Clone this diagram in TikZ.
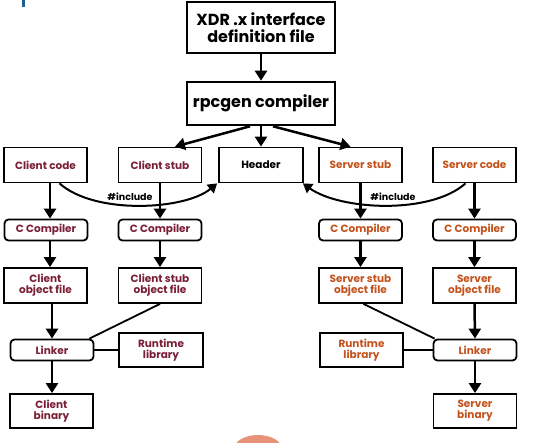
\documentclass[tikz,border=0pt]{standalone}
\usepackage{fontspec}
\setmainfont{Poppins}
\usetikzlibrary{arrows.meta}
\definecolor{cli}{HTML}{7A1F35}
\definecolor{srv}{HTML}{C4521C}
\definecolor{slideblue}{HTML}{1F5F8F}
\definecolor{blob}{HTML}{E8927A}
\begin{document}
\begin{tikzpicture}[x=1pt,y=-1pt,
  bigbox/.style={draw,line width=2.6pt,minimum width=148pt,align=center,inner sep=0pt,
    font=\fontsize{16}{17}\selectfont\bfseries},
  box/.style={draw,line width=1.8pt,minimum width=83pt,minimum height=35pt,align=center,inner sep=0pt,
    font=\fontsize{10.5}{11}\selectfont\bfseries},
  rbox/.style={box,rounded corners=4pt,minimum height=21pt},
  cl/.style={text=cli},
  sv/.style={text=srv},
  arr/.style={line width=2.5pt,-{Triangle[length=10pt,width=12pt]}},
  ln/.style={line width=1.8pt},
  carr/.style={line width=2pt,-{Triangle[length=9pt,width=11pt]}},
  lbl/.style={font=\fontsize{9.5}{10}\selectfont\bfseries,inner sep=0pt}]
\useasboundingbox (0,0) rectangle (533,442);
\fill[white] (0,0) rectangle (533,442);
% slide remnants
\fill[slideblue] (22,0) rectangle (24.5,7);
\begin{scope}
\clip (0,0) rectangle (533,442);
\fill[blob] (258,449) ellipse [x radius=24pt, y radius=14pt];
\end{scope}
% top
\node[bigbox,minimum height=51pt] (xdr) at (261,27.5) {XDR .x interface\\definition file};
\node[bigbox,minimum height=43pt] (rpc) at (261,103.5) {rpcgen compiler};
% row 2
\node[box,cl] (ccode) at (45.5,165) {Client code};
\node[box,cl] (cstub) at (160,165) {Client stub};
\node[box,minimum width=84pt] (hdr) at (261,165) {Header};
\node[box,sv] (sstub) at (360.5,165) {Server stub};
\node[box,sv] (scode) at (474.5,165) {Server code};
% compilers
\node[rbox,cl] (cc1) at (46,230) {C Compiler};
\node[rbox,cl] (cc2) at (160,230) {C Compiler};
\node[rbox,sv] (cc3) at (360.5,230) {C Compiler};
\node[rbox,sv] (cc4) at (474.5,230) {C Compiler};
% object files
\node[box,cl] (obj1) at (45.5,285.5) {Client\\object file};
\node[box,cl] (obj2) at (160,285.5) {Client stub\\object file};
\node[box,sv] (obj3) at (360.5,285.5) {Server stub\\object file};
\node[box,sv] (obj4) at (474.5,285.5) {Server\\object file};
% linkers
\node[rbox,cl] (lk1) at (52,350) {Linker};
\node[box,cl,minimum width=84pt,minimum height=34pt] (rt1) at (161,350) {Runtime\\library};
\node[box,sv,minimum height=34pt] (rt2) at (361.5,350) {Runtime\\library};
\node[rbox,sv] (lk2) at (475,350) {Linker};
% binaries
\node[box,cl,minimum height=34pt] (bin1) at (51.5,411) {Client\\binary};
\node[box,sv,minimum height=34pt] (bin2) at (475,411) {Server\\binary};
% arrows top
\draw[arr] (xdr.south) -- (rpc.north);
\draw[arr] (rpc.south) -- (hdr.north);
\draw[arr] ([xshift=-11pt]rpc.south) -- ([xshift=15pt]cstub.north);
\draw[arr] ([xshift=12pt]rpc.south) -- ([xshift=-10pt]sstub.north);
% client column
\draw[arr] ([xshift=4.5pt]ccode.south) -- ([xshift=4pt]cc1.north);
\draw[arr] ([xshift=4pt]cc1.south) -- ([xshift=4.5pt]obj1.north);
\draw[arr] ([xshift=6.5pt]obj1.south) -- (lk1.north);
\draw[arr] (lk1.south) -- ([xshift=0.5pt]bin1.south |- bin1.north);
\draw[arr] (cstub.south) -- (cc2.north);
\draw[arr] (cc2.south) -- (obj2.north);
\draw[ln] (obj2.south) -- ([xshift=-5pt]lk1.north east);
\draw[ln] (rt1.west) -- (lk1.east);
% server column
\draw[arr] (sstub.south) -- (cc3.north);
\draw[arr] (cc3.south) -- (obj3.north);
\draw[arr] (scode.south) -- (cc4.north);
\draw[arr] (cc4.south) -- (obj4.north);
\draw[arr] (obj4.south) -- (lk2.north);
\draw[arr] (lk2.south) -- (bin2.north);
\draw[ln] ([xshift=3pt]obj3.south) -- ([xshift=2pt]lk2.north west);
\draw[ln] (rt2.east) -- (lk2.west);
% include curves
\coordinate (cs) at ([xshift=14pt]ccode.south);
\coordinate (ce) at ([xshift=-1pt]hdr.south west);
\draw[carr] (cs) .. controls (95,215) and (185,210) .. (ce);
\coordinate (ss) at ([xshift=-9pt]scode.south);
\coordinate (se) at ([xshift=-1pt]hdr.south east);
\draw[carr] (ss) .. controls (430,215) and (340,210) .. (se);
\node[lbl] (inc1) at (130,196.5) {\#include};
\node[lbl] (inc2) at (393,196.5) {\#include};
\end{tikzpicture}
\end{document}
